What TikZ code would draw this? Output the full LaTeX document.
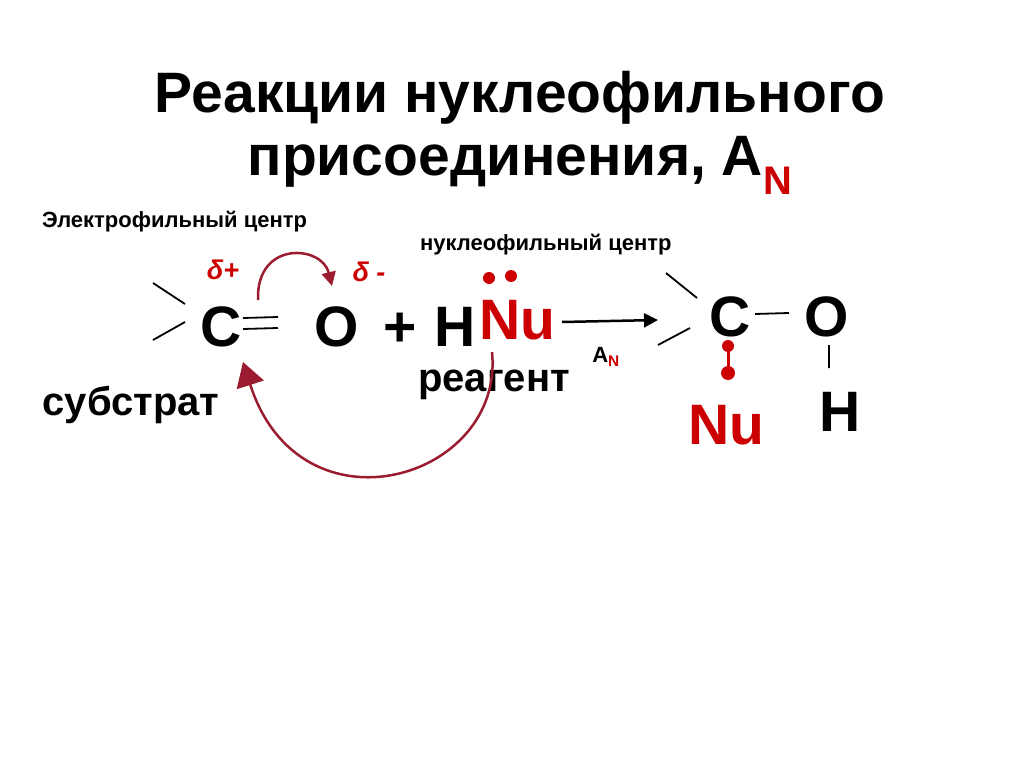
\documentclass[tikz,border=0pt]{standalone}
\usepackage{fontspec}
\setmainfont{Liberation Sans}
\usetikzlibrary{arrows.meta}
\definecolor{rd}{HTML}{CC0000}
\definecolor{wine}{HTML}{9B1B30}
\tikzset{t/.style={font=\bfseries,inner sep=0pt}, bond/.style={line width=1.8pt}}
\begin{document}
\begin{tikzpicture}[x=1pt,y=-1pt]
\useasboundingbox (0,0) rectangle (1024,767);
\node[t,font=\bfseries\fontsize{57}{63}\selectfont,align=center] (title) at (520,133) {Реакции нуклеофильного\\присоединения, A\textcolor{rd}{\textsubscript{N}}};
\node[t,font=\bfseries\fontsize{22}{24}\selectfont,anchor=west] (ec) at (42,222) {Электрофильный центр};
\node[t,font=\bfseries\fontsize{22}{24}\selectfont,anchor=west] (nc) at (420,245) {нуклеофильный центр};
\node[t,font=\bfseries\itshape\fontsize{27}{30}\selectfont,text=rd] (dp) at (223,270) {δ+};
\node[t,font=\bfseries\itshape\fontsize{27}{30}\selectfont,text=rd] (dm) at (369,272) {δ -};
\tikzset{big/.style={t,font=\bfseries\fontsize{57}{60}\selectfont}}
\node[big] (C1) at (221,327) {C};
\node[big] (O1) at (337,327) {O};
\node[big] (pl) at (400,330) {+};
\node[big] (H1) at (455,327) {H};
\node[big,text=rd] (Nu1) at (517,320) {Nu};
\fill[rd] (489,278) circle (6) (511,276) circle (6);
\draw[bond] (153,283) -- (185,304) (153,340) -- (185,322);
\draw[bond] (243,318) -- (278,317) (243,329) -- (278,328);
\node[t,font=\bfseries\fontsize{40}{44}\selectfont] (sub) at (131,405) {субстрат};
\node[t,font=\bfseries\fontsize{40}{44}\selectfont] (reag) at (494,385) {реагент};
\coordinate (a1) at (562,322); \coordinate (a2) at (658,320);
\draw[line width=2.5pt,-{Triangle[length=14pt,width=14pt]}] (a1) -- (a2);
\node[t,font=\bfseries\fontsize{22}{24}\selectfont] (an) at (606,357) {A\textcolor{rd}{\textsubscript{N}}};
\draw[bond] (666,273) -- (697,298) (658,345) -- (690,328);
\node[big] (C2) at (730,317) {C};
\node[big] (O2) at (827,317) {O};
\node[big] (H2) at (840,412) {H};
\node[big,text=rd] (Nu2) at (726,425) {Nu};
\draw[bond] (755,314) -- (789,313) (829,345) -- (829,368);
\draw[line width=3pt,rd] (728,346) -- (728,373);
\fill[rd] (728,346) circle (6) (728,373) circle (7);
\draw[wine,line width=2.5pt,-{Triangle[length=14pt,width=14pt]}] (258,300) .. controls (256,240) and (322,245) .. (332,286);
\draw[wine,line width=2.5pt,-{Triangle[length=24pt,width=28pt]}] (492,352) .. controls (505,480) and (300,540) .. (243,362);
\end{tikzpicture}
\end{document}
